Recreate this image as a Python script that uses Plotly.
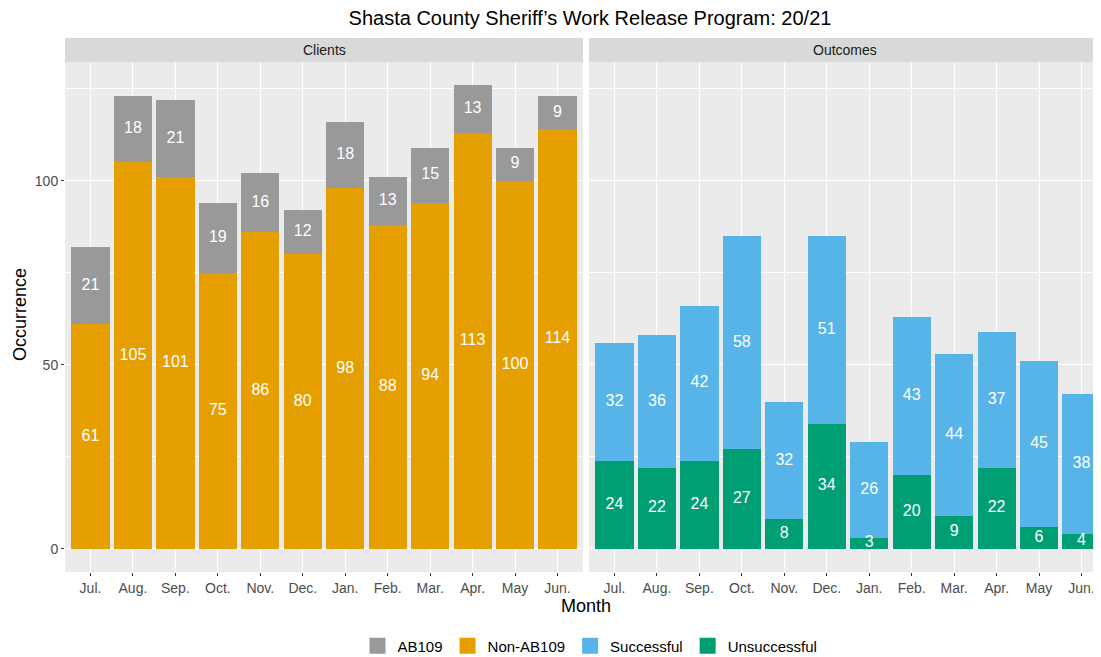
import plotly.graph_objects as go
from plotly.subplots import make_subplots

months = ["Jul.", "Aug.", "Sep.", "Oct.", "Nov.", "Dec.", "Jan.", "Feb.", "Mar.", "Apr.", "May", "Jun."]
non_ab109 = [61, 105, 101, 75, 86, 80, 98, 88, 94, 113, 100, 114]
ab109 = [21, 18, 21, 19, 16, 12, 18, 13, 15, 13, 9, 9]
unsuccessful = [24, 22, 24, 27, 8, 34, 3, 20, 9, 22, 6, 4]
successful = [32, 36, 42, 58, 32, 51, 26, 43, 44, 37, 45, 38]

C_AB = "#999999"
C_NON = "#E69F00"
C_SUC = "#56B4E9"
C_UNS = "#009E73"
FONT = "Liberation Sans, Arial"

fig = make_subplots(rows=1, cols=2, shared_yaxes=True, horizontal_spacing=0.006)

def add_stack(col, bottom, top, bcol, tcol):
    fig.add_trace(go.Bar(x=months, y=bottom, marker_color=bcol, width=0.9,
                         marker_line_width=0, showlegend=False), row=1, col=col)
    fig.add_trace(go.Bar(x=months, y=top, marker_color=tcol, width=0.9,
                         marker_line_width=0, showlegend=False), row=1, col=col)
    ymid_b = [b / 2 for b in bottom]
    ymid_t = [b + t / 2 for b, t in zip(bottom, top)]
    fig.add_trace(go.Scatter(x=months + months, y=ymid_b + ymid_t, mode="text",
                             text=[str(v) for v in bottom + top],
                             textfont=dict(color="white", size=16, family=FONT),
                             showlegend=False, hoverinfo="skip"), row=1, col=col)

add_stack(1, non_ab109, ab109, C_NON, C_AB)
add_stack(2, unsuccessful, successful, C_UNS, C_SUC)

# legend entries (square keys)
for name, col in [("AB109", C_AB), ("Non-AB109", C_NON), ("Successful", C_SUC), ("Unsuccessful", C_UNS)]:
    fig.add_trace(go.Scatter(x=[None], y=[None], mode="markers", name=name,
                             marker=dict(symbol="square", size=18, color=col)), row=1, col=1)

# page body has an 8px margin: work in reference pixels minus 8
OFF = 8
W, H = 1101 - OFF, 657 - OFF
L = 65 - OFF
T = 38 - OFF
panel_bottom = 572 - OFF
B = H - panel_bottom
R = 0
pw = W - L - R
ph = H - T - B

def px(x):
    return (x - OFF - L) / pw

def py(y):
    return (panel_bottom - (y - OFF)) / ph

panel_top = py(62)
left_end = px(583)
right_start = px(589)
unit = (583 - 65) / 12.2
right_units = (1101 - 589) / unit

tickfont = dict(size=14, color="#4D4D4D", family=FONT)
fig.update_xaxes(type="category", categoryorder="array", categoryarray=months,
                 showgrid=True, gridcolor="white", gridwidth=1.1, zeroline=False, showline=False,
                 ticks="outside", ticklen=3, tickcolor="#333333", tickfont=tickfont)
fig.update_xaxes(domain=[0, left_end], range=[-0.6, 11.6], row=1, col=1)
fig.update_xaxes(domain=[right_start, 1], range=[-0.6, -0.6 + right_units], row=1, col=2)

fig.update_yaxes(range=[-6.3, 132.3], domain=[0, panel_top], tickvals=[0, 50, 100],
                 showgrid=True, gridcolor="white", gridwidth=1.1, zeroline=False, showline=False,
                 ticks="outside", ticklen=3, tickcolor="#333333", tickfont=tickfont,
                 minor=dict(tickvals=[25, 75, 125], showgrid=True, gridcolor="white", gridwidth=0.5, ticklen=0))
fig.update_yaxes(ticks="", row=1, col=2)

shapes = [
    dict(type="rect", xref="paper", yref="paper", x0=0, x1=left_end, y0=panel_top, y1=1,
         fillcolor="#D9D9D9", line_width=0, layer="below"),
    dict(type="rect", xref="paper", yref="paper", x0=right_start, x1=1, y0=panel_top, y1=1,
         fillcolor="#D9D9D9", line_width=0, layer="below"),
]

strip_y = (panel_top + 1) / 2
stripfont = dict(size=14, color="#1A1A1A", family=FONT)
annotations = [
    dict(text="Clients", x=left_end / 2, y=strip_y, xref="paper", yref="paper", showarrow=False,
         xanchor="center", yanchor="middle", font=stripfont),
    dict(text="Outcomes", x=(right_start + 1) / 2, y=strip_y, xref="paper", yref="paper", showarrow=False,
         xanchor="center", yanchor="middle", font=stripfont),
    dict(text="Occurrence", x=px(20), y=py(315), xref="paper", yref="paper",
         showarrow=False, textangle=-90, xanchor="center", yanchor="middle",
         font=dict(size=18, color="black", family=FONT)),
    dict(text="Month", x=px(586), y=py(606), xref="paper", yref="paper",
         showarrow=False, xanchor="center", yanchor="middle",
         font=dict(size=18, color="black", family=FONT)),
]

fig.update_layout(
    width=W, height=H,
    margin=dict(l=L, r=R, t=T, b=B),
    barmode="stack",
    paper_bgcolor="white",
    plot_bgcolor="#EBEBEB",
    title=dict(text="Shasta County Sheriff\u2019s Work Release Program: 20/21",
               x=(590 - OFF) / W, xanchor="center", y=1 - (18 - OFF) / H, yanchor="middle",
               font=dict(size=20, color="black", family=FONT)),
    legend=dict(orientation="h", xref="container", x=(590 - OFF) / W, xanchor="center",
                yref="container", y=1 - (646 - OFF) / H, yanchor="middle",
                traceorder="normal", font=dict(size=15, color="black", family=FONT),
                itemsizing="trace"),
    shapes=shapes,
    annotations=annotations,
)

fig.write_html("out.html")
